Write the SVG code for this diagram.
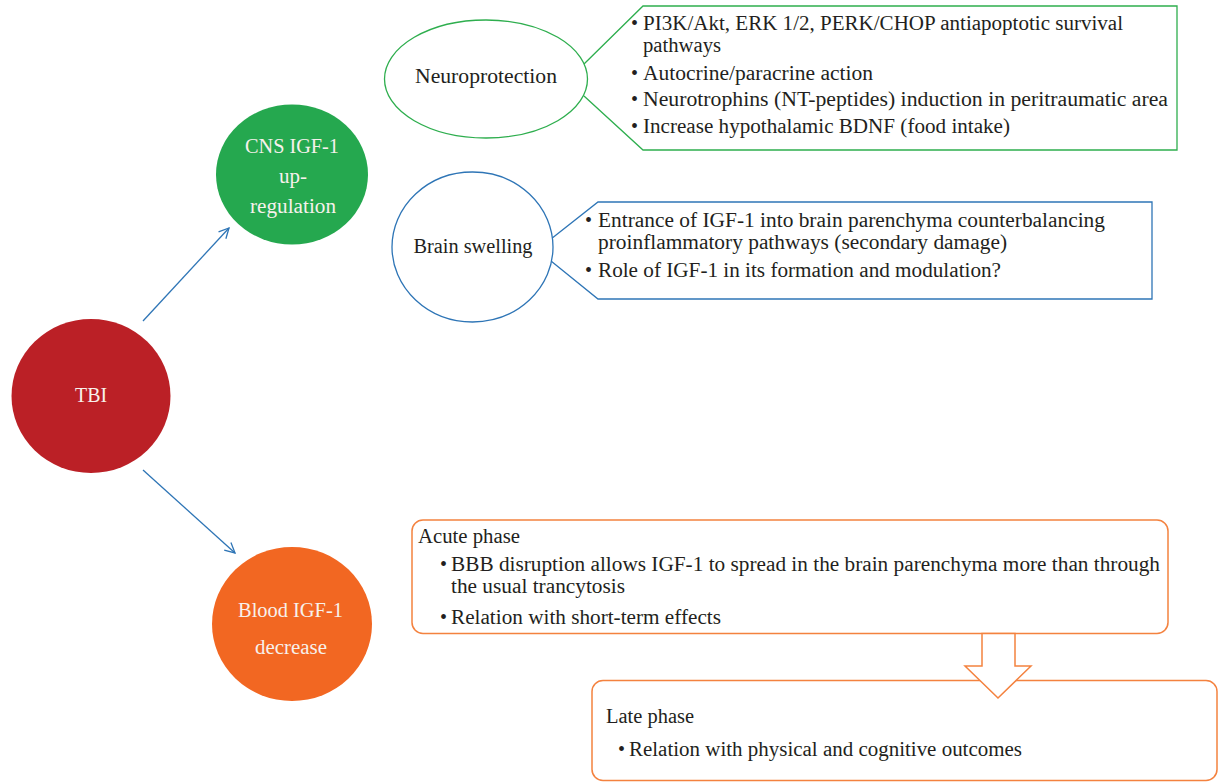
<svg xmlns="http://www.w3.org/2000/svg" width="1218" height="782" viewBox="0 0 1218 782">
<style>
.t{font-family:"Liberation Serif","Times New Roman",serif;font-size:20px;fill:#231F20}
.w{font-family:"Liberation Serif","Times New Roman",serif;font-size:20px;fill:#F7F1EC;text-anchor:middle}
.g{fill:#fff;stroke:#2EAE4E;stroke-width:1.3}
.b{fill:#fff;stroke:#2E75B6;stroke-width:1.3}
.o{fill:#fff;stroke:#F4823F;stroke-width:1.5}
.c{fill:none;stroke:#2E75B6;stroke-width:1.3}
</style>
<defs>
<marker id="ah" viewBox="0 0 12 12" refX="11" refY="6" markerWidth="12" markerHeight="12" markerUnits="userSpaceOnUse" orient="auto">
<path d="M1,1 L11,6 L1,11" fill="none" stroke="#2E75B6" stroke-width="1.3"/>
</marker>
</defs>
<rect width="1218" height="782" fill="#fff"/>

<g id="connectors">
<line class="c" x1="143" y1="321" x2="229" y2="228" marker-end="url(#ah)"/>
<line class="c" x1="143" y1="470" x2="235" y2="553" marker-end="url(#ah)"/>
</g>

<g id="tbi">
<ellipse cx="91" cy="396" rx="79.5" ry="77" fill="#BB2026"/>
<text class="w" x="91" y="402" textLength="32" lengthAdjust="spacingAndGlyphs">TBI</text>
</g>

<g id="cns">
<ellipse cx="292" cy="174.5" rx="76" ry="70" fill="#25A84F"/>
<text class="w" x="292" y="153" textLength="94" lengthAdjust="spacingAndGlyphs">CNS IGF-1</text>
<text class="w" x="293" y="183" textLength="28" lengthAdjust="spacingAndGlyphs">up-</text>
<text class="w" x="293" y="213" textLength="86" lengthAdjust="spacingAndGlyphs">regulation</text>
</g>

<g id="blood">
<ellipse cx="292" cy="624" rx="80" ry="77" fill="#F26722"/>
<text class="w" x="290.5" y="617" textLength="105" lengthAdjust="spacingAndGlyphs">Blood IGF-1</text>
<text class="w" x="291" y="654" textLength="72" lengthAdjust="spacingAndGlyphs">decrease</text>
</g>

<g id="neuroprotection-details">
<path class="g" d="M584,64 L643,6 L1177,6 L1177,150 L643,150 L584,96"/>
<text class="t" x="631" y="30">•</text>
<text class="t" x="643" y="30" textLength="480" lengthAdjust="spacingAndGlyphs">PI3K/Akt, ERK 1/2, PERK/CHOP antiapoptotic survival</text>
<text class="t" x="643" y="52" textLength="78" lengthAdjust="spacingAndGlyphs">pathways</text>
<text class="t" x="631" y="80">•</text>
<text class="t" x="643" y="80" textLength="230" lengthAdjust="spacingAndGlyphs">Autocrine/paracrine action</text>
<text class="t" x="631" y="106">•</text>
<text class="t" x="643" y="106" textLength="525" lengthAdjust="spacingAndGlyphs">Neurotrophins (NT-peptides) induction in peritraumatic area</text>
<text class="t" x="631" y="133">•</text>
<text class="t" x="643" y="133" textLength="367" lengthAdjust="spacingAndGlyphs">Increase hypothalamic BDNF (food intake)</text>
</g>

<g id="neuroprotection">
<ellipse class="g" cx="486" cy="79" rx="101.5" ry="59"/>
<text class="t" x="486" y="83" text-anchor="middle" textLength="142" lengthAdjust="spacingAndGlyphs">Neuroprotection</text>
</g>

<g id="swelling-details">
<path class="b" d="M551,239 L598,202 L1152,202 L1152,299 L598,299 L551,261"/>
<text class="t" x="585" y="227">•</text>
<text class="t" x="598" y="227" textLength="507" lengthAdjust="spacingAndGlyphs">Entrance of IGF-1 into brain parenchyma counterbalancing</text>
<text class="t" x="598" y="249" textLength="409" lengthAdjust="spacingAndGlyphs">proinflammatory pathways (secondary damage)</text>
<text class="t" x="585" y="277">•</text>
<text class="t" x="598" y="277" textLength="403" lengthAdjust="spacingAndGlyphs">Role of IGF-1 in its formation and modulation?</text>
</g>

<g id="brain-swelling">
<ellipse class="b" cx="472.5" cy="247" rx="80.5" ry="75"/>
<text class="t" x="473" y="253" text-anchor="middle" textLength="119" lengthAdjust="spacingAndGlyphs">Brain swelling</text>
</g>

<g id="acute-phase">
<rect class="o" x="412" y="520" width="756" height="113.5" rx="11"/>
<text class="t" x="418" y="543" textLength="102" lengthAdjust="spacingAndGlyphs">Acute phase</text>
<text class="t" x="440" y="571">•</text>
<text class="t" x="451" y="571" textLength="709" lengthAdjust="spacingAndGlyphs">BBB disruption allows IGF-1 to spread in the brain parenchyma more than through</text>
<text class="t" x="451" y="593" textLength="174" lengthAdjust="spacingAndGlyphs">the usual trancytosis</text>
<text class="t" x="440" y="624">•</text>
<text class="t" x="451" y="624" textLength="270" lengthAdjust="spacingAndGlyphs">Relation with short-term effects</text>
</g>

<g id="late-phase">
<rect class="o" x="592" y="680.5" width="625" height="100" rx="11"/>
<text class="t" x="606" y="723" textLength="88" lengthAdjust="spacingAndGlyphs">Late phase</text>
<text class="t" x="618" y="756">•</text>
<text class="t" x="629" y="756" textLength="393" lengthAdjust="spacingAndGlyphs">Relation with physical and cognitive outcomes</text>
</g>

<g id="phase-arrow">
<path class="o" d="M982,633.5 L1015,633.5 L1015,666 L1031,666 L998,698 L965,666 L982,666 Z"/>
</g>
</svg>
